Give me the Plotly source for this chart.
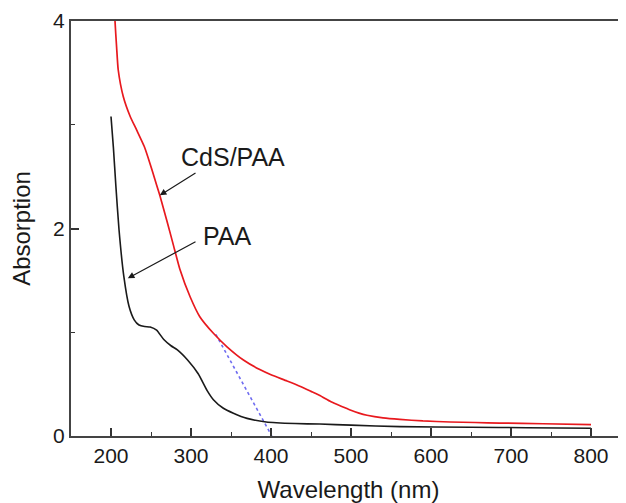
import plotly.graph_objects as go

# CdS/PAA (red)
cds_x = [204.5, 205, 207, 209, 215.4, 224, 232, 241.6, 249, 253, 257, 261, 270, 278, 286, 299, 311, 328, 345, 366, 386, 400, 420, 436, 450, 461, 475, 490, 499, 510, 520, 540, 561, 590, 624, 655, 686, 740, 800]
cds_y = [4.2, 4.0, 3.75, 3.53, 3.27, 3.08, 2.95, 2.79, 2.62, 2.52, 2.42, 2.32, 2.07, 1.84, 1.61, 1.34, 1.15, 0.99, 0.86, 0.73, 0.64, 0.59, 0.53, 0.48, 0.43, 0.39, 0.33, 0.28, 0.25, 0.22, 0.20, 0.175, 0.16, 0.145, 0.135, 0.13, 0.125, 0.118, 0.11]

# PAA (black)
paa_x = [200, 203, 206, 210, 216, 222.5, 229, 235, 242, 249, 257, 266, 275, 283, 296, 309, 320, 328, 340, 353, 370, 394, 430, 461, 500, 561, 650, 720, 800]
paa_y = [3.08, 2.78, 2.42, 1.99, 1.54, 1.25, 1.12, 1.07, 1.055, 1.05, 1.02, 0.93, 0.87, 0.83, 0.73, 0.60, 0.44, 0.35, 0.27, 0.22, 0.17, 0.135, 0.12, 0.115, 0.105, 0.09, 0.085, 0.08, 0.075]

# tangent (band-edge extrapolation)
tan_x = [331, 401]
tan_y = [0.98, 0.0]

fig = go.Figure()
fig.add_trace(go.Scatter(x=tan_x, y=tan_y, mode="lines",
                         line=dict(color="#6f6cf0", width=1.6, dash="dot"),
                         showlegend=False, hoverinfo="skip"))
fig.add_trace(go.Scatter(x=paa_x, y=paa_y, mode="lines", name="PAA",
                         line=dict(color="#1a1a1a", width=1.6, shape="spline", smoothing=0.5),
                         showlegend=False))
fig.add_trace(go.Scatter(x=cds_x, y=cds_y, mode="lines", name="CdS/PAA",
                         line=dict(color="#e8191e", width=1.7, shape="spline", smoothing=0.5),
                         showlegend=False))

font = dict(family="Liberation Sans, Arial, sans-serif", color="#1a1a1a")

fig.add_annotation(x=353, y=2.69, xref="x", yref="y", text="CdS/PAA",
                   showarrow=False, font=dict(size=25, **font))
fig.add_annotation(x=345, y=1.93, xref="x", yref="y", text="PAA",
                   showarrow=False, font=dict(size=25, **font))
fig.add_annotation(x=261, y=2.32, ax=307.5, ay=2.545, xref="x", yref="y",
                   axref="x", ayref="y", text="", showarrow=True,
                   arrowhead=2, arrowsize=1.1, arrowwidth=1.2, arrowcolor="#1a1a1a")
fig.add_annotation(x=221, y=1.52, ax=307.5, ay=1.88, xref="x", yref="y",
                   axref="x", ayref="y", text="", showarrow=True,
                   arrowhead=2, arrowsize=1.1, arrowwidth=1.2, arrowcolor="#1a1a1a")

fig.update_layout(
    width=618, height=495,
    margin=dict(l=63, r=0, t=13, b=67),
    paper_bgcolor="white", plot_bgcolor="white",
    font=dict(size=21, **font),
)
fig.update_xaxes(
    range=[150, 843.75], tickvals=[200, 300, 400, 500, 600, 700, 800],
    ticks="inside", ticklen=8, tickwidth=1.5, tickcolor="#333",
    minor=dict(dtick=50, tick0=150, ticks="inside", ticklen=4, tickwidth=1.3, tickcolor="#333"),
    showline=True, linecolor="#444", linewidth=2, mirror=True,
    showgrid=False, zeroline=False, automargin=False,
    title=dict(text="Wavelength (nm)", font=dict(size=24, **font), standoff=15),
    tickfont=dict(size=21, **font),
)
fig.update_yaxes(
    range=[0, 4], tickvals=[0, 2, 4],
    ticks="inside", ticklen=8, tickwidth=1.5, tickcolor="#333",
    minor=dict(dtick=1, tick0=0, ticks="inside", ticklen=4, tickwidth=1.3, tickcolor="#333"),
    showline=True, linecolor="#444", linewidth=2, mirror=False,
    showgrid=False, zeroline=False, automargin=False,
    title=dict(text="Absorption", font=dict(size=24, **font), standoff=20),
    tickfont=dict(size=21, **font),
)

fig.write_html("out.html")
